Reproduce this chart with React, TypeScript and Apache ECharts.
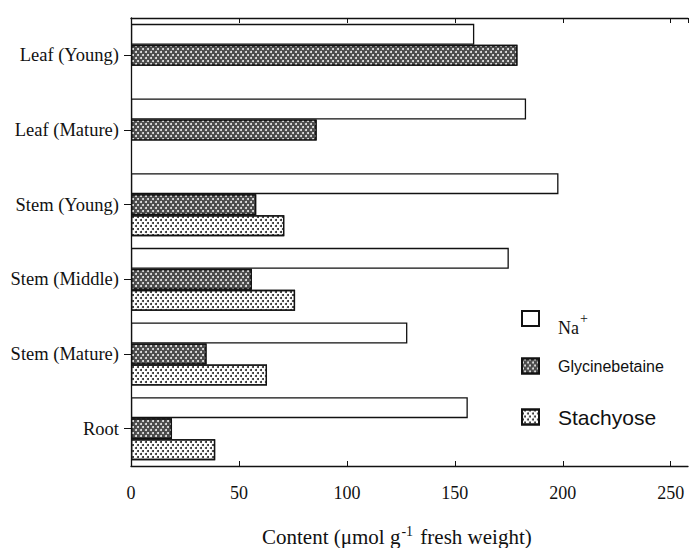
import React, { useEffect, useRef } from "react";
import * as echarts from "echarts";

const categories = ["Leaf (Young)", "Leaf (Mature)", "Stem (Young)", "Stem (Middle)", "Stem (Mature)", "Root"];
const naValues = [159, 183, 198, 175, 128, 156];
const glyValues = [179, 86, 58, 56, 35, 19];
const staValues: (number | null)[] = [null, null, 71, 76, 63, 39];
const seriesNames = ["Na+", "Glycinebetaine", "Stachyose"];
const xTicks = [0, 50, 100, 150, 200, 250];

const SERIF = "Liberation Serif";
const SANS = "Liberation Sans";

export default function App() {
  const ref = useRef<HTMLDivElement>(null);
  useEffect(() => {
    document.body.style.margin = "0";
    if (!ref.current) return;
    const chart = echarts.init(ref.current, null, { renderer: "svg" });
    const border = { borderColor: "#111", borderWidth: 1.3 };
    const legendBase = {
      orient: "vertical",
      left: 521,
      icon: "rect",
      itemWidth: 17,
      itemHeight: 15,
      padding: 0,
    };
    chart.setOption({
      animation: false,
      backgroundColor: "#fff",
      grid: { left: 131, right: 1, top: 18, bottom: 82 },
      xAxis: [
        {
          type: "value",
          min: 0,
          max: 258,
          interval: 50,
          position: "bottom",
          axisLine: { show: true, lineStyle: { color: "#111", width: 1.3 } },
          axisTick: { show: true, inside: true, length: 5, lineStyle: { color: "#111" } },
          axisLabel: {
            showMaxLabel: false,
            margin: 18,
            fontFamily: SERIF,
            fontSize: 18,
            color: "#111",
            formatter: (v: number) => (xTicks.includes(v) ? String(v) : ""),
          },
          splitLine: { show: false },
        },
        {
          type: "value",
          min: 0,
          max: 258,
          interval: 50,
          position: "top",
          axisLine: { show: true, lineStyle: { color: "#111", width: 1.3 } },
          axisTick: { show: true, inside: true, length: 5, lineStyle: { color: "#111" } },
          axisLabel: { show: false },
          splitLine: { show: false },
        },
      ],
      yAxis: {
        type: "category",
        data: categories,
        inverse: true,
        axisLine: { show: true, lineStyle: { color: "#111", width: 1.3 } },
        axisTick: { show: true, alignWithLabel: true, length: 7, lineStyle: { color: "#111" } },
        axisLabel: { margin: 12, fontFamily: SERIF, fontSize: 18.5, color: "#111" },
      },
      legend: [
        {
          ...legendBase,
          top: 310,
          data: [seriesNames[0]],
          formatter: () => "{ser|Na}{sup|+}",
          textStyle: {
            rich: {
              ser: { fontFamily: SERIF, fontSize: 18, color: "#111", padding: [19, 0, 0, 14] },
              sup: { fontFamily: SERIF, fontSize: 14, color: "#111", padding: [0, 0, 0, 1] },
            },
          },
        },
        {
          ...legendBase,
          top: 357.5,
          data: [seriesNames[1]],
          textStyle: { fontFamily: SANS, fontSize: 16, color: "#111", padding: [2, 0, 0, 14] },
        },
        {
          ...legendBase,
          top: 406.5,
          data: [seriesNames[2]],
          textStyle: { fontFamily: SANS, fontSize: 21, color: "#111", padding: [0, 0, 0, 14] },
        },
      ],
      graphic: [
        {
          type: "text",
          left: 262,
          top: 524,
          style: {
            text: "{a|Content (μmol g}{s|-1}{a| fresh weight)}",
            rich: {
              a: { fontFamily: SERIF, fontSize: 21, fill: "#111" },
              s: { fontFamily: SERIF, fontSize: 14, fill: "#111", padding: [0, 2, 12, 1] },
            },
          },
        },
      ],
      series: [
        {
          name: "Na+",
          type: "bar",
          data: naValues,
          barWidth: 21,
          barGap: "0%",
          itemStyle: { color: "#fff", ...border },
        },
        {
          name: "Glycinebetaine",
          type: "bar",
          data: glyValues,
          barWidth: 21,
          barGap: "0%",
          itemStyle: {
            color: "#4a4a4a",
            ...border,
            decal: {
              symbol: "circle",
              symbolSize: 1,
              color: "rgba(255,255,255,0.9)",
              dashArrayX: [[1.6, 2.4], [0, 2, 1.6, 0.4]],
              dashArrayY: [1.6, 0.9],
            },
          },
        },
        {
          name: "Stachyose",
          type: "bar",
          data: staValues,
          barWidth: 21,
          barGap: "0%",
          itemStyle: {
            color: "#fff",
            ...border,
            decal: {
              symbol: "circle",
              symbolSize: 1,
              color: "#222",
              dashArrayX: [[1.1, 2.4], [0, 1.75, 1.1, 0.65]],
              dashArrayY: [1.1, 0.9],
            },
          },
        },
      ],
    });
    return () => chart.dispose();
  }, []);
  return <div ref={ref} style={{ width: 689, height: 548 }} />;
}
